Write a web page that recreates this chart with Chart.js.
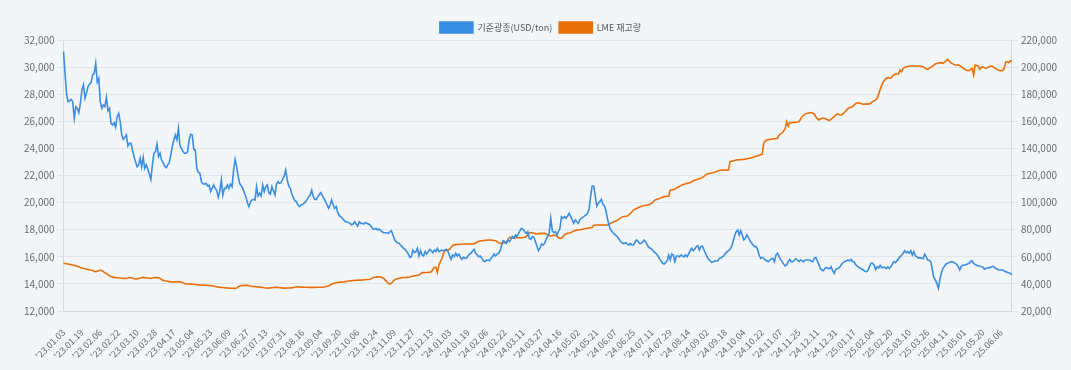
<!DOCTYPE html>
<html><head><meta charset="utf-8">
<script src="https://cdn.jsdelivr.net/npm/chart.js@4/dist/chart.umd.min.js"></script>
<style>html,body{margin:0;padding:0;background:#f3f6f9;}canvas{display:block;}</style>
</head><body>
<canvas id="c" width="1071" height="370"></canvas>
<script>
const SERIES_NAMES = ['기준광종(USD/ton)', 'LME 재고량'];
const START_DATE = '2023-01-03';
const LME_HOLIDAYS = ['2023-04-07','2023-04-10','2023-05-01','2023-05-08','2023-05-29','2023-08-28','2023-12-25','2023-12-26','2024-01-01','2024-03-29','2024-04-01','2024-05-06','2024-05-27','2024-08-26','2024-12-25','2024-12-26','2025-01-01','2025-04-18','2025-04-21','2025-05-05','2025-05-26'];
const TICK_LABELS = ["'23.01.03","'23.01.19","'23.02.06","'23.02.22","'23.03.10","'23.03.28","'23.04.17","'23.05.04","'23.05.23","'23.06.09","'23.06.27","'23.07.13","'23.07.31","'23.08.16","'23.09.04","'23.09.20","'23.10.06","'23.10.24","'23.11.09","'23.11.27","'23.12.13","'24.01.03","'24.01.19","'24.02.06","'24.02.22","'24.03.11","'24.03.27","'24.04.16","'24.05.02","'24.05.21","'24.06.07","'24.06.25","'24.07.11","'24.07.29","'24.08.14","'24.09.02","'24.09.18","'24.10.04","'24.10.22","'24.11.07","'24.11.25","'24.12.11","'24.12.31","'25.01.17","'25.02.04","'25.02.20","'25.03.10","'25.03.26","'25.04.11","'25.05.01","'25.05.20","'25.06.06"];
const PRICE = [
31150,29500,28000,27450,27520,27620,27450,26220,27080,26960,26640,27330,
28310,28680,27700,28110,28560,28750,28850,29420,29540,30280,28900,29170,
27450,26960,27200,27080,27770,26780,26960,25850,25730,25900,25560,26340,
26590,25970,24990,24670,24820,24990,24180,24370,24370,23880,23390,23020,
22650,22780,23270,22650,23340,22530,22780,22460,22110,21720,22780,23640,
23760,24320,23390,23640,23140,22950,22700,22580,22780,22950,23510,24130,
24620,24990,24620,25480,24180,24000,23760,23640,23640,23760,24620,25040,
24990,23930,23880,22530,22230,22160,21540,21370,21370,21420,21230,21270,
20810,21050,21300,21050,20880,20390,20810,21670,20560,21050,21050,21300,
21050,21370,21180,22410,23190,22650,21910,21420,21230,21050,20730,20440,
19990,19700,20040,20190,20240,20190,21180,20490,20680,20490,21300,20810,
21180,21300,20730,20630,21180,20880,20560,21370,21540,21420,21470,21720,
21960,22410,21670,21230,21050,20630,20390,20140,20070,19820,19700,19820,
19870,19950,20070,20240,20440,20560,20930,20440,20240,20240,20440,20610,
20730,20490,20310,20070,19820,19580,19820,20190,19820,19580,19700,19260,
19040,18960,18840,18720,18590,18590,18520,18470,18370,18420,18590,18420,
18270,18590,18470,18470,18420,18520,18470,18420,18350,18220,18030,18030,
18100,17980,18050,17930,17850,17780,17780,17780,17730,17850,17930,17610,
17290,17120,17040,16990,16870,16750,16620,16550,16380,16210,15960,16010,
16500,16310,16380,16620,16060,16450,16130,16060,16380,16210,16380,16550,
16450,16310,16500,16380,16620,16380,16450,16500,16450,16500,16550,16380,
16060,15810,16130,16010,16260,16060,16210,15960,15810,15960,15890,15890,
16060,16210,16260,16450,16550,16260,16130,16010,16060,15890,15690,15640,
15740,15760,15710,15890,16010,16210,16060,16210,16260,16450,16870,17190,
17120,16990,17240,17120,17290,17490,17360,17610,17490,17730,17930,18100,
18030,17850,17730,17850,17360,17290,17490,17440,17120,16800,16450,16630,
16940,16870,16990,17290,17530,17780,18840,17930,17780,17860,17610,17860,
18100,18960,18840,18960,18840,19010,19210,18960,18720,18470,18720,18590,
18470,18720,18840,18910,19010,19090,19210,19500,20440,21230,21230,20560,
19750,19950,20070,20240,19900,19750,19400,18840,18350,18030,17860,17730,
17630,17530,17410,17240,17070,16990,16990,17040,16940,16870,16990,16870,
16870,17090,17240,17140,16990,16990,17090,17240,17090,16870,16700,16630,
16550,16400,16310,16210,16060,15860,15690,15520,15470,15570,15710,16130,
15760,16210,16130,15640,16060,16060,16010,16130,16060,16010,16130,16010,
16210,16450,16630,16450,16550,16750,16820,16500,16750,16800,16500,16260,
16010,15810,15710,15590,15620,15710,15690,15690,15890,15890,16010,16060,
16260,16360,16450,16550,16750,17120,17530,17860,17980,17610,17930,17610,
17240,17360,17610,17440,17170,17040,16870,16750,16750,16550,16130,15890,
15960,15890,15760,15710,15640,15760,15840,15890,15640,16130,16260,16010,
15810,15640,15470,15320,15400,15640,15810,15640,15640,15760,15860,15760,
15640,15760,15710,15640,15760,15760,15760,15760,15690,15640,15890,15960,
15690,15420,15120,15030,14980,15150,15220,15150,15120,15270,14980,14780,
15080,15120,15170,15300,15470,15590,15660,15710,15760,15710,15810,15640,
15640,15420,15320,15220,15170,15080,15030,14930,14900,14980,15270,15520,
15520,15400,15080,15270,15170,15370,15200,15220,15220,15120,15250,15150,
15270,15470,15640,15570,15710,15860,16010,16110,16260,16450,16310,16380,
16260,16450,16130,16380,16060,16010,15910,15940,15890,15860,16180,16010,
15760,15740,15640,15080,14480,14290,14040,13670,14340,14830,15150,15300,
15470,15520,15570,15620,15640,15590,15520,15440,15270,15030,15320,15370,
15400,15420,15470,15520,15660,15710,15520,15420,15370,15320,15320,15270,
15250,15080,15150,15170,15200,15220,15270,15300,15170,15120,15050,15030,
15030,15030,14950,14900,14850,14830,14780,14660
];
const STOCK = [
55200,55000,54900,54700,54500,54200,54000,53700,53300,53000,52600,52100,
51700,51400,51200,51000,50700,50400,50200,49900,49400,49100,49300,49700,
50200,49800,49000,48200,47700,46800,46000,45400,45000,44800,44600,44500,
44400,44300,44200,44100,44000,44100,44300,44700,44600,44300,43800,43600,
43700,44000,44300,44500,44800,44600,44400,44300,44200,44100,44300,44500,
44700,44600,44500,44000,43200,42600,42300,42100,41900,41700,41500,41400,
41300,41400,41600,41700,41500,41200,40800,40300,40000,39900,39900,39800,
39800,39700,39600,39400,39300,39200,39200,39100,39100,39000,38900,38800,
38700,38600,38400,38100,37900,37600,37500,37400,37300,37200,37100,37000,
36900,36800,36800,36700,36700,36900,37900,38500,38700,38800,38900,39000,
38900,38600,38400,38200,38100,38000,37900,37800,37700,37500,37300,37100,
37000,36900,37000,37100,37200,37300,37400,37400,37300,37200,37100,37000,
36900,36900,37000,37000,37100,37100,37300,37500,37900,37800,37700,37600,
37600,37500,37500,37500,37400,37400,37400,37400,37400,37500,37500,37500,
37500,37500,37700,37900,38200,38500,39200,39900,40300,40600,40800,41000,
41200,41300,41400,41500,41700,41900,42100,42200,42400,42500,42600,42700,
42700,42800,42800,42900,43000,43100,43200,43300,43400,43900,44700,44900,
45000,45200,45300,45000,44600,44000,42800,41600,40500,39900,40500,41800,
43000,43500,43900,44200,44400,44600,44700,44700,44800,44900,45100,45400,
45700,45900,46200,46400,46600,47400,48300,48300,48400,48400,48500,48700,
49000,50500,52200,52300,48300,54000,56500,58900,62500,64500,64800,65000,
65700,67000,68500,68800,69000,69100,69200,69300,69300,69400,69400,69400,
69400,69400,69500,69500,69700,69900,71100,71400,71700,71900,72000,72100,
72300,72400,72400,72300,72200,72000,71900,71200,70400,70100,69900,70200,
70400,70500,72500,74300,74400,74200,74100,74100,74100,74100,74100,74100,
74200,74400,74800,76500,77800,77900,77700,77400,77100,76900,77100,77300,
77300,77300,77300,76800,76000,75700,75400,75700,76100,75700,75300,74200,
73600,73700,75000,76300,77000,77400,77600,77800,78400,79000,79400,79700,
79800,80000,80200,80400,80700,80900,81100,81300,81500,81700,83200,83500,
83500,83500,83400,83500,83500,83400,83500,83500,84000,84700,85200,85900,
86300,86600,87400,88200,88900,89500,89700,89900,90100,91000,92100,93300,
94500,95100,95700,96200,96800,97200,97500,97800,98000,98200,98500,98900,
99500,100600,101900,102300,102700,103100,103500,104000,104400,104500,104700,104900,
109300,109500,109600,109800,110800,111400,111900,112500,113100,113500,113900,114200,
114500,114700,115400,116100,116500,116900,117300,117700,118000,118600,119400,120300,
121100,121400,121600,121800,122000,122400,122800,123300,123700,123900,124000,124100,
124100,124000,124100,130200,130500,130800,131100,131400,131500,131600,131700,131800,
131900,132100,132300,132500,132700,133100,133500,133900,134300,134500,134900,135300,
135600,143700,145500,146200,146400,146600,146800,147000,147100,147300,147400,149900,
150700,151400,152800,154500,159700,156500,159000,159000,159100,159200,159300,159500,
159700,161500,163400,164300,165300,165700,166000,166300,166400,165900,165400,163400,
162000,161000,161700,162200,162200,162100,161500,161000,160500,161500,162500,163400,
164500,165400,165100,164800,164700,165800,167100,168300,169400,170000,170600,170800,
172000,173200,173500,173700,173300,172800,172700,172700,172800,172700,172800,173500,
174500,175100,175700,177000,180000,183500,186500,189200,190500,191800,192200,191900,
191700,193400,194200,194900,194900,194900,197800,196600,199000,199800,200200,200400,
200600,200800,200800,200800,200700,200800,200800,200700,200500,200300,199500,198800,
198400,199200,199800,200600,201500,202300,202700,203000,203300,203100,202800,203600,
204600,205700,204500,203300,202700,202000,201600,201500,201600,200900,200200,199500,
198600,197900,197600,197400,198200,199100,194200,201500,201200,200800,198400,199700,
200300,199600,199100,199600,200300,200600,200800,200000,199100,198500,197900,197600,
197400,197500,199100,204000,204000,203300,204700,204000
];
const TICK_EVERY = 12;

// trading-day calendar (weekdays minus LME holidays)
function tradingDays(start, n, holidays) {
  const out = [];
  const hs = new Set(holidays);
  const d = new Date(start + 'T00:00:00Z');
  while (out.length < n) {
    const dow = d.getUTCDay();
    const iso = d.toISOString().slice(0, 10);
    if (dow !== 0 && dow !== 6 && !hs.has(iso)) {
      out.push("'" + iso.slice(2, 4) + '.' + iso.slice(5, 7) + '.' + iso.slice(8, 10));
    }
    d.setUTCDate(d.getUTCDate() + 1);
  }
  return out;
}
const CATEGORIES = tradingDays(START_DATE, PRICE.length, LME_HOLIDAYS);

const FONT = "'Noto Sans CJK KR', 'Noto Sans', sans-serif";
const GRID = '#e2e6eb';
const BORDER = '#d3d8de';
const TICKC = '#666b70';

// trims the legend's reserved height so the plot starts closer under it
const legendTrim = {
  id: 'legendTrim',
  beforeLayout(chart) {
    const lg = chart.legend;
    if (lg && !lg._trimmed) {
      const f = lg.fit;
      lg.fit = function () { f.call(this); this.height -= 3; };
      lg._trimmed = true;
    }
  }
};

new Chart(document.getElementById('c'), {
  type: 'line',
  data: {
    labels: CATEGORIES,
    datasets: [
      { label: SERIES_NAMES[0], data: PRICE, yAxisID: 'y', borderColor: '#3a8ee3', backgroundColor: '#3a8ee3', borderWidth: 1.6, pointRadius: 0, tension: 0 },
      { label: SERIES_NAMES[1], data: STOCK, yAxisID: 'y1', borderColor: '#e86f0a', backgroundColor: '#e86f0a', borderWidth: 1.6, pointRadius: 0, tension: 0 }
    ]
  },
  plugins: [legendTrim],
  options: {
    responsive: false,
    animation: false,
    devicePixelRatio: 1,
    layout: { padding: { left: 21, right: 11, top: 15, bottom: 0 } },
    plugins: {
      legend: {
        position: 'top',
        labels: { boxWidth: 33, boxHeight: 11, padding: 7, color: '#555', font: { family: FONT, size: 9 } }
      },
      tooltip: { enabled: false }
    },
    scales: {
      x: {
        grid: { display: false },
        border: { display: true, color: BORDER },
        afterFit: s => { s.height = 59; },
        ticks: {
          autoSkip: false, maxRotation: 45, minRotation: 45, padding: 8,
          color: TICKC, font: { family: FONT, size: 9 },
          callback: (v, i) => (i % TICK_EVERY === 0 && TICK_LABELS[i / TICK_EVERY]) ? TICK_LABELS[i / TICK_EVERY] : ''
        }
      },
      y: {
        position: 'left', min: 12000, max: 32000,
        grid: { color: GRID, tickLength: 6 },
        border: { color: BORDER },
        ticks: { stepSize: 2000, color: TICKC, font: { family: FONT, size: 10 }, padding: 3,
          callback: v => v.toLocaleString('en-US') }
      },
      y1: {
        position: 'right', min: 20000, max: 220000,
        grid: { drawOnChartArea: false, color: GRID, tickLength: 6 },
        border: { color: BORDER },
        ticks: { stepSize: 20000, color: TICKC, font: { family: FONT, size: 10 }, padding: 3,
          callback: v => v.toLocaleString('en-US') }
      }
    }
  }
});
</script>
</body></html>
